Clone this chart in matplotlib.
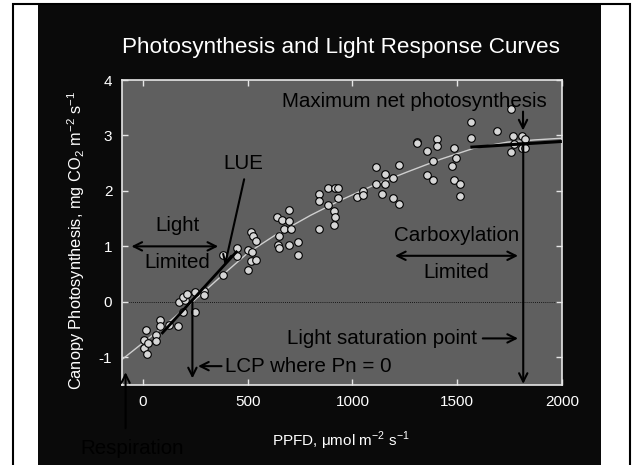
import matplotlib
matplotlib.use("Agg")
import matplotlib.pyplot as plt
from matplotlib.patches import Rectangle

plt.rcParams['font.family'] = ['Liberation Sans', 'DejaVu Sans']

# ---- data ----
ppfd = [5, 19, 5, 24, 13, 61, 61, 80, 80, 125, 168, 189, 248, 171, 200, 192, 208, 248, 292, 292,
        380, 380, 447, 447, 501, 519, 516, 540, 501, 516, 527, 540,
        640, 663, 699, 696, 671, 708, 650, 738, 643, 648, 696, 738,
        840, 840, 881, 918, 931, 929, 881, 912, 918, 912, 840,
        1022, 1051, 1051, 1113, 1154, 1193, 1113, 1154, 1141, 1193, 1223, 1223,
        1306, 1306, 1405, 1405, 1357, 1383, 1483, 1493, 1477, 1357, 1383, 1483, 1513, 1513,
        1568, 1568, 1692, 1757, 1766, 1809, 1825, 1769, 1809, 1825, 1756]
pn = [-0.83, -0.94, -0.68, -0.75, -0.50, -0.60, -0.71, -0.32, -0.44, -0.42, -0.43, -0.18, -0.18, 0.0, 0.03, 0.09, 0.14, 0.17, 0.19, 0.13,
      0.49, 0.85, 0.97, 0.82, 0.94, 0.90, 0.73, 0.75, 0.57, 1.26, 1.19, 1.09,
      1.53, 1.47, 1.66, 1.46, 1.31, 1.31, 1.19, 1.08, 1.03, 0.97, 1.02, 0.85,
      1.95, 1.81, 2.05, 2.05, 2.06, 1.87, 1.75, 1.63, 1.53, 1.39, 1.32,
      1.89, 2.00, 1.92, 2.43, 2.31, 2.24, 2.13, 2.13, 1.95, 1.87, 1.77, 2.46,
      2.88, 2.86, 2.94, 2.81, 2.72, 2.54, 2.77, 2.60, 2.45, 2.28, 2.19, 2.19, 2.13, 1.90,
      3.24, 2.96, 3.08, 3.48, 2.99, 2.99, 2.93, 2.84, 2.78, 2.77, 2.70]

curve_x = [-100, 0, 100, 237, 370, 500, 630, 800, 942, 1100, 1260, 1420, 1580, 1740, 1870, 2000]
curve_y = [-1.04, -0.74, -0.44, 0.0, 0.45, 0.88, 1.20, 1.56, 1.83, 2.10, 2.34, 2.57, 2.77, 2.88, 2.92, 2.95]

x_ticks = [0, 500, 1000, 1500, 2000]
y_ticks = [-1, 0, 1, 2, 3, 4]

W, H = 632, 465
fig = plt.figure(figsize=(W / 100, H / 100), dpi=100, facecolor='white')

def fx(px):
    return px / W

def fy(py):
    return 1 - py / H

# slide frame & black panel
fig.add_artist(Rectangle((fx(38), fy(466)), fx(601) - fx(38), fy(3) - fy(466),
                         transform=fig.transFigure, facecolor='#0a0a0a', edgecolor='none', zorder=0))
fig.add_artist(Rectangle((fx(13), fy(470)), fx(629.5) - fx(13), fy(4) - fy(470),
                         transform=fig.transFigure, facecolor='none', edgecolor='black', lw=1.5, zorder=0))

ax = fig.add_axes([fx(122), fy(385), fx(562) - fx(122), fy(80) - fy(385)])
ax.set_facecolor('#5f5f5f')
ax.set_xlim(-100, 2000)
ax.set_ylim(-1.5, 4)
for s in ax.spines.values():
    s.set_color('#e6e6e6')
    s.set_linewidth(1.2)

ax.set_xticks(x_ticks)
ax.set_yticks(y_ticks)
ax.set_xticklabels([str(v) for v in x_ticks])
ax.set_yticklabels([str(v) for v in y_ticks])
ax.tick_params(direction='in', length=4, width=1, colors='#e6e6e6', labelcolor='white',
               labelsize=11, top=True, right=True, pad=7)

ax.axhline(0, color='black', lw=0.6, ls=(0, (1, 1.5)), zorder=1)
ax.plot(curve_x, curve_y, color='#cfcfcf', lw=1.0, zorder=2)
ax.scatter(ppfd, pn, s=30, facecolor='#d6d6d6', edgecolor='black', linewidth=0.8, zorder=3)

tk = dict(color='black', fontsize=14.8, ha='center', va='center')
arr = dict(arrowstyle='->,head_length=0.6,head_width=0.3', color='black', lw=1.5,
           shrinkA=0, shrinkB=0)
arr2 = dict(arrowstyle='<->,head_length=0.6,head_width=0.3', color='black', lw=1.5,
            shrinkA=0, shrinkB=0)

# Maximum net photosynthesis
ax.text(1296, 3.61, 'Maximum net photosynthesis', **tk)
ax.annotate('', xy=(1814, 3.09), xytext=(1814, 3.43), arrowprops=arr)
ax.plot([1570, 1992], [2.79, 2.89], color='black', lw=2.2, zorder=4)
ax.annotate('', xy=(1815, -1.48), xytext=(1815, 2.87), arrowprops=arr)

# Light saturation point
ax.text(1594, -0.66, 'Light saturation point', color='black', fontsize=14.8, ha='right', va='center')
ax.annotate('', xy=(1790, -0.66), xytext=(1622, -0.66), arrowprops=arr)

# Carboxylation limited
ax.text(1495, 1.20, 'Carboxylation', **tk)
ax.text(1495, 0.53, 'Limited', **tk)
ax.annotate('', xy=(1790, 0.83), xytext=(1203, 0.83), arrowprops=arr2)

# Light limited
ax.text(163, 1.385, 'Light', **tk)
ax.text(163, 0.71, 'Limited', **tk)
ax.annotate('', xy=(359, 1.0), xytext=(-55, 1.0), arrowprops=arr2)

# LUE
ax.text(481, 2.49, 'LUE', **tk)
ax.annotate('', xy=(391, 0.66), xytext=(483, 2.21), arrowprops=arr)
ax.plot([93, 446], [-0.56, 0.90], color='black', lw=2.0, zorder=4)

# LCP
ax.annotate('', xy=(236, -1.38), xytext=(236, 0.0), arrowprops=arr)
ax.text(391, -1.16, 'LCP where Pn = 0', color='black', fontsize=14.8, ha='left', va='center')
ax.annotate('', xy=(263, -1.16), xytext=(375, -1.16), arrowprops=arr)

# Respiration
ax.annotate('', xy=(-83, -1.27), xytext=(-83, -2.28), arrowprops=arr,
            annotation_clip=False)
ax.text(-51, -2.65, 'Respiration', clip_on=False, **tk)

# titles and labels
fig.text(fx(341), fy(47), 'Photosynthesis and Light Response Curves', color='white',
         fontsize=16.2, ha='center', va='center')
fig.text(fx(341), fy(441), r'PPFD, μmol m$^{\mathregular{-2}}$ s$^{\mathregular{-1}}$', color='white',
         fontsize=11, ha='center', va='center')
fig.text(fx(76), fy(240), r'Canopy Photosynthesis, mg CO$_{\mathregular{2}}$ m$^{\mathregular{-2}}$ s$^{\mathregular{-1}}$',
         color='white', fontsize=11.8, ha='center', va='center', rotation=90)

fig.savefig('out.png', dpi=100, facecolor='white')
